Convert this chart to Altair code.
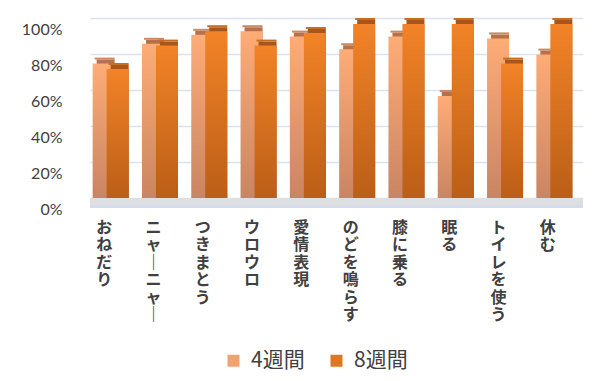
import altair as alt
import pandas as pd

categories = ["おねだり", "ニャーニャー", "つきまとう", "ウロウロ", "愛情表現",
              "のどを鳴らす", "膝に乗る", "眠る", "トイレを使う", "休む"]
series = ["4週間", "8週間"]
week4 = [78, 89, 94, 96, 93, 86, 93, 60, 92, 83]
week8 = [75, 88, 96, 88, 95, 100, 100, 100, 78, 100]

rows = []
for i, (c, a, b) in enumerate(zip(categories, week4, week8)):
    rows.append({"idx": i, "cat": c, "series": series[0], "val": a / 100})
    rows.append({"idx": i, "cat": c, "series": series[1], "val": b / 100})
df = pd.DataFrame(rows)

W, H = 493, 180
N = len(categories)
BW = 14 / (W / N)      # bar width in category units
DEPTH = 4 / H          # 3D top face thickness in data units


def grad(top, bottom):
    return alt.Gradient(gradient="linear", x1=0, x2=0, y1=0, y2=1,
                        stops=[alt.GradientStop(color=top, offset=0),
                               alt.GradientStop(color=bottom, offset=1)])


styles = {
    "4週間": dict(front=grad("#FEAC77", "#C98562"), side=grad("#B8714B", "#8A5034"), top="#C98A66"),
    "8週間": dict(front=grad("#F28327", "#BB5E17"), side=grad("#A9561A", "#77390C"), top="#C86D24"),
}

cat_js = "[" + ",".join("'" + c + "'" for c in categories) + "]"
xscale = alt.Scale(domain=[0, N], nice=False, zero=False)
xaxis = alt.Axis(values=[i + 0.5 for i in range(N)],
                 labelExpr=f"split(replace({cat_js}[floor(datum.value)], /ー/g, '｜'), '')",
                 labelAngle=0, labelAlign="center", labelBaseline="top",
                 labelLineHeight=17.5, labelFont="Noto Sans CJK JP",
                 labelFontSize=16, labelFontWeight="bold", labelColor="#404040",
                 labelPadding=21, labelOffset=-11, ticks=False, domain=False,
                 grid=False, labelOverlap=False, labelFlush=False)
yaxis = alt.Axis(values=[0, 0.2, 0.4, 0.6, 0.8, 1.0], format="%",
                 labelFont="Lato", labelFontSize=16, labelColor="#404040",
                 labelPadding=28, labelOffset=11, ticks=False, domain=False,
                 grid=True, gridColor="#D9E3F2", gridWidth=1.3, labelOverlap=False)

yscale = alt.Scale(domain=[0, 1], nice=False, padding=0)
xenc = alt.X("xl:Q", scale=xscale, title=None, axis=xaxis)
x2enc = alt.X2("xr:Q")
yenc = alt.Y("val:Q", scale=yscale, title=None, axis=yaxis)
y2zero = alt.Y2("zero:Q")

base = alt.Chart(df).transform_calculate(
    xl=f"datum.idx + 0.5 - (datum.series == '{series[0]}' ? {BW} : 0)",
).transform_calculate(
    xr=f"datum.xl + {BW}",
    top=f"datum.val + {DEPTH}",
    zero="0",
)

floor = base.mark_rule(color="#DEDFE3", strokeWidth=8, yOffset=4, clip=False).encode(
    y=alt.datum(0, scale=yscale, axis=yaxis))
floor_edge = base.mark_rule(color="#D3DCEB", strokeWidth=1.5, yOffset=8.5, clip=False).encode(
    y=alt.datum(0, scale=yscale, axis=yaxis))

layers = [floor, floor_edge]
for s in series:
    st = styles[s]
    b = base.transform_filter(alt.datum.series == s)
    side = b.mark_bar(xOffset=-4, yOffset=2, fill=st["side"]).encode(
        x=xenc, x2=x2enc, y=yenc, y2=y2zero)
    topf = b.mark_bar(xOffset=-6, yOffset=6, fill=st["top"]).encode(
        x=xenc, x2=x2enc, y=alt.Y("top:Q", scale=yscale, title=None, axis=yaxis), y2="val:Q")
    front = b.mark_bar(xOffset=-8, yOffset=6, fill=st["front"]).encode(
        x=xenc, x2=x2enc, y=yenc, y2=y2zero)
    layers += [side, topf, front]

legend_layer = base.mark_bar().encode(
    x=xenc, x2=x2enc,
    y=alt.Y("zero:Q", scale=yscale, title=None, axis=yaxis), y2=y2zero,
    color=alt.Color("series:N", sort=series, title=None,
                    scale=alt.Scale(domain=series, range=["#F0A270", "#E0771F"]),
                    legend=alt.Legend(orient="none", legendX=133, legendY=332,
                                      direction="horizontal", symbolType="square",
                                      symbolSize=144, symbolStrokeWidth=0,
                                      labelFont="Noto Sans CJK JP", labelFontSize=21,
                                      labelColor="#404040", labelOffset=7,
                                      columnPadding=21, padding=0)))
layers.append(legend_layer)

chart = alt.layer(*layers).properties(
    width=W, height=H,
    padding={"left": 90, "top": 18, "right": 28, "bottom": 183},
    autosize=alt.AutoSizeParams(type="none"),
    background="white",
).configure_view(stroke=None)

chart.save("out.html", embed_options={"renderer": "svg", "actions": False})
